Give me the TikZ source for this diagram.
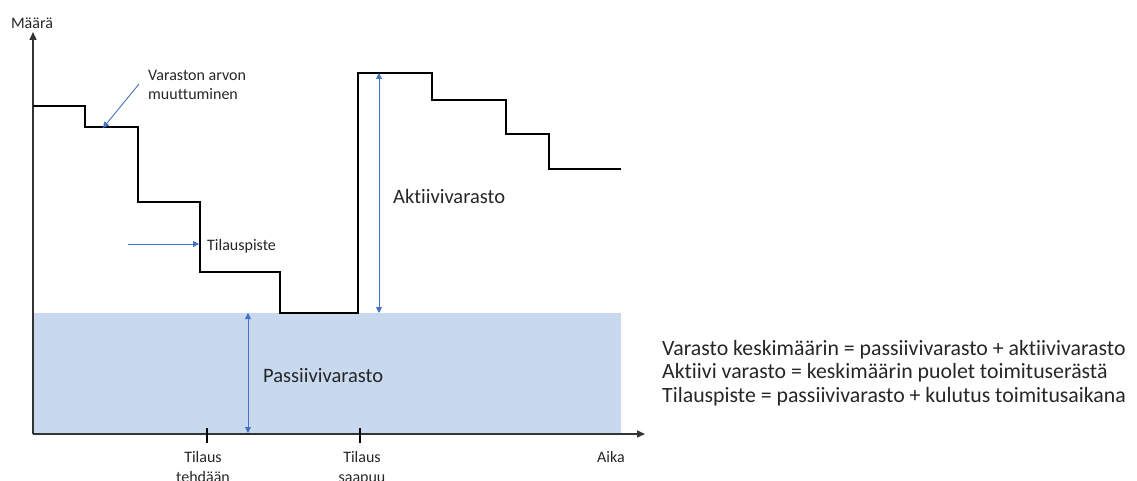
\documentclass[tikz,border=0pt]{standalone}
\usepackage{fontspec}
\setmainfont{Carlito}[Ligatures={NoCommon}]
\usetikzlibrary{arrows.meta}
\definecolor{fillblue}{RGB}{199,216,239}
\definecolor{lineblue}{RGB}{68,114,196}
\definecolor{ink}{RGB}{38,38,38}

\begin{document}
\begin{tikzpicture}[x=1pt,y=-1pt,
  axis/.style={draw=black!80, line width=1.4pt, -{Triangle[length=8pt,width=7pt]}},
  stock/.style={draw=black, line width=2pt, line join=miter},
  tickmark/.style={draw=black, line width=1.6pt},
  pointer/.style={draw=lineblue, line width=0.9pt, -{Triangle[length=6pt,width=6pt]}},
  span/.style={draw=lineblue, line width=0.9pt, {Triangle[length=6pt,width=6pt]}-{Triangle[length=6pt,width=6pt]}},
  small/.style={font=\fontsize{16}{19}\selectfont, text=ink, inner sep=0pt},
  big/.style={font=\fontsize{20.5}{23}\selectfont, text=ink, inner sep=0pt},
  note/.style={font=\fontsize{21.8}{23.3}\selectfont, text=ink, inner sep=0pt, anchor=base west}]
\useasboundingbox (0,0) rectangle (1137,481);

% safety stock band
\fill[fillblue] (33,313) rectangle (621,433);

% axes
\coordinate (O) at (33,434);
\coordinate (ytop) at (33,32);
\coordinate (xend) at (645,434);
\draw[axis] (O) -- (ytop);
\draw[axis] (O) -- (xend);
\node[small, anchor=base] (maara) at (32,28.3) {Määrä};
\node[small, anchor=base] (aika) at (611,462) {Aika};

% order placed / order arrives
\coordinate (t1) at (207,434);
\coordinate (t2) at (360,434);
\draw[tickmark] ([yshift=6pt]t1) -- ([yshift=-9pt]t1);
\draw[tickmark] ([yshift=6pt]t2) -- ([yshift=-9pt]t2);
\node[small, anchor=base] (t1a) at (203,462) {Tilaus};
\node[small, anchor=base] (t1b) at (203,482) {tehdään};
\node[small, anchor=base] (t2a) at (362,462) {Tilaus};
\node[small, anchor=base] (t2b) at (362,482) {saapuu};

% stock level over time
\draw[stock] (33,106) -| (85,127) -| (138,202) -| (200,272) -| (280,313)
  -| (358,73) -| (432,100) -| (506,134) -| (549,169) -- (621,169);

% active stock
\coordinate (a1) at (379,73);
\coordinate (a2) at (379,313);
\draw[span] (a1) -- (a2);
\node[big, anchor=base west] (akt) at (393,204) {Aktiivivarasto};

% safety stock
\coordinate (p1) at (248,313);
\coordinate (p2) at (248,433);
\draw[span] (p1) -- (p2);
\node[big, anchor=base west] (pas) at (263,382) {Passiivivarasto};

% reorder point
\coordinate (r1) at (128,244);
\coordinate (r2) at (199,244);
\draw[pointer] (r1) -- (r2);
\node[small, anchor=base west] (tp) at (207,250) {Tilauspiste};

% change of stock value
\coordinate (v1) at (139,84);
\coordinate (v2) at (103,128);
\draw[pointer] (v1) -- (v2);
\node[small, anchor=base west] (va) at (148,81) {Varaston arvon};
\node[small, anchor=base west] (vb) at (148,100) {muuttuminen};

% formulas
\node[note] (f1) at (662,355.5) {Varasto keskimäärin = passiivivarasto + aktiivivarasto};
\node[note] (f2) at (662,378.8) {Aktiivi varasto = keskimäärin puolet toimituserästä};
\node[note] (f3) at (662,402) {Tilauspiste = passiivivarasto + kulutus toimitusaikana};
\end{tikzpicture}
\end{document}
